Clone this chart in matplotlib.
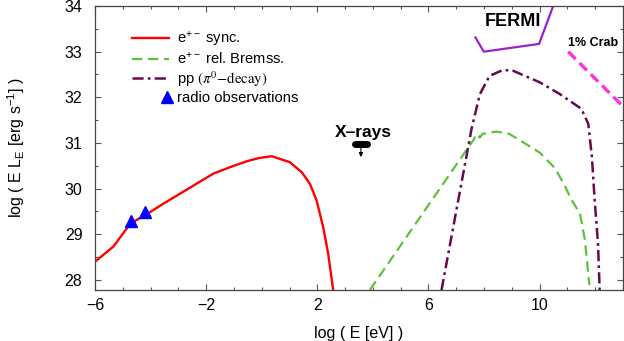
import numpy as np
import matplotlib
matplotlib.use("Agg")
import matplotlib.pyplot as plt
from matplotlib.legend_handler import HandlerLine2D

plt.rcParams['font.family'] = ['Liberation Sans', 'DejaVu Sans']
plt.rcParams['mathtext.fontset'] = 'custom'
plt.rcParams['mathtext.rm'] = 'Liberation Sans'
plt.rcParams['mathtext.it'] = 'Liberation Sans:italic'
plt.rcParams['lines.scale_dashes'] = False

# ---- data (log E [eV], log E L_E [erg/s]) ----
sync_E = [-6.0, -5.34, -4.72, -4.19, -3.54, -2.94, -2.34, -1.74, -1.14, -0.54, -0.1,
          0.36, 1.01, 1.44, 1.73, 1.97, 2.21, 2.39, 2.57]
sync_L = [28.40, 28.73, 29.24, 29.42, 29.67, 29.89, 30.11, 30.33, 30.47, 30.60, 30.67,
          30.71, 30.58, 30.36, 30.11, 29.75, 29.16, 28.58, 27.78]

brems_E = [3.89, 7.61, 7.75, 7.85, 7.95, 8.45, 8.9, 9.29, 10.0, 10.55, 10.9, 11.15, 11.45, 11.63, 11.79]
brems_L = [27.78, 31.06, 31.2, 31.12, 31.2, 31.25, 31.2, 31.06, 30.79, 30.45, 30.07, 29.75, 29.46, 28.87, 27.89]

pp_E = [6.47, 7.55, 7.85, 8.2, 8.69, 9.05, 10.0, 10.73, 11.5, 11.75, 11.88, 11.98, 12.1, 12.16]
pp_L = [27.78, 31.31, 32.07, 32.47, 32.6, 32.58, 32.33, 32.07, 31.75, 31.42, 30.7, 29.75, 28.8, 27.78]

fermi_E = [7.69, 7.99, 9.98, 10.55]
fermi_L = [33.31, 33.0, 33.17, 34.1]

crab_E = [11.03, 13.0]
crab_L = [33.0, 31.8]

radio_E = [-4.72, -4.19]
radio_L = [29.29, 29.48]

xray_E = [3.37, 3.80]
xray_L = [30.98, 30.98]
xray_arrow_E = 3.57
xray_arrow_L = [30.95, 30.69]

xticks = [-6, -2, 2, 6, 10]
yticks = [28, 29, 30, 31, 32, 33, 34]

# ---- figure ----
fig = plt.figure(figsize=(6.24, 3.41), dpi=100)
ax = fig.add_axes([95/624, (341-290)/341, 528/624, (290-6)/341])

red = '#ff0000'
green = '#5cc23a'
ppc = '#660a50'
fermic = '#9a20d2'
crabc = '#ff30e0'

l_sync, = ax.plot(sync_E, sync_L, color=red, lw=1.7, label=r'e$^{+-}$ sync.')
l_brems, = ax.plot(brems_E, brems_L, color=green, lw=1.6, dashes=(7.5, 4),
                   label=r'e$^{+-}$ rel. Bremss.')
l_pp, = ax.plot(pp_E, pp_L, color=ppc, lw=1.8, dashes=(8, 3, 2, 3),
                label=r'pp $(\pi^0\mathrm{-decay})$')
ax.plot(fermi_E, fermi_L, color=fermic, lw=1.6)
ax.plot(crab_E, crab_L, color=crabc, lw=2.4, dashes=(7.5, 4))
l_radio, = ax.plot(radio_E, radio_L, ls='none', marker='^', ms=9, color='#0000ff',
                   label='radio observations')

ax.plot(xray_E, xray_L, color='k', lw=5, solid_capstyle='round')
ax.annotate('', xy=(xray_arrow_E, xray_arrow_L[1]), xytext=(xray_arrow_E, xray_arrow_L[0]),
            arrowprops=dict(arrowstyle='-|>', color='k', lw=0.8, mutation_scale=6,
                            shrinkA=0, shrinkB=0))

ax.text(3.64, 31.24, 'X–rays', fontsize=12.5, fontweight='bold', ha='center', va='center')
ax.text(9.05, 33.66, 'FERMI', fontsize=13, fontweight='bold', ha='center', va='center')
ax.text(11.01, 33.18, '1% Crab', fontsize=9, fontweight='bold', ha='left', va='center',
        clip_on=True)

ax.set_xlim(-6, 13)
ax.set_ylim(27.78, 34.0)
ax.set_xticks(xticks)
ax.set_xticks(np.arange(-6, 14, 1), minor=True)
ax.set_yticks(yticks)
ax.set_yticks(np.arange(28, 34.01, 0.5), minor=True)
ax.set_xticklabels(['\u22126', '\u22122', '2', '6', '10'])

ax.tick_params(which='both', direction='in', top=True, right=True, colors='#555555',
               labelcolor='black', labelsize=11.5)
ax.tick_params(which='major', length=4.5, width=0.8)
ax.tick_params(which='minor', length=2.5, width=0.8)
ax.tick_params(axis='x', pad=6)
ax.tick_params(axis='y', pad=9)
for s in ax.spines.values():
    s.set_color('#444444')
    s.set_linewidth(0.9)

ax.set_xlabel('log ( E [eV] )', fontsize=11.5, labelpad=9)
ax.set_ylabel(r'log ( E L$_{\mathrm{E}}$ [erg s$^{-1}$] )', fontsize=11.5, labelpad=27)


class RightMarker(HandlerLine2D):
    def get_xdata(self, legend, xdescent, ydescent, width, height, fontsize):
        x = -xdescent + width - 0.1 * fontsize
        return np.array([x]), np.array([x])


leg = ax.legend(handles=[l_sync, l_brems, l_pp, l_radio], loc='upper left',
                bbox_to_anchor=((131.7 - 95) / 528, (290 - 29.5) / 284),
                frameon=False, fontsize=10.6, handlelength=2.5, handletextpad=0.55,
                labelspacing=0.15, borderpad=0, borderaxespad=0, numpoints=1,
                handler_map={l_radio: RightMarker()})
leg.get_texts()[2].set_math_fontfamily('stix')

fig.savefig('out.png', dpi=100)
